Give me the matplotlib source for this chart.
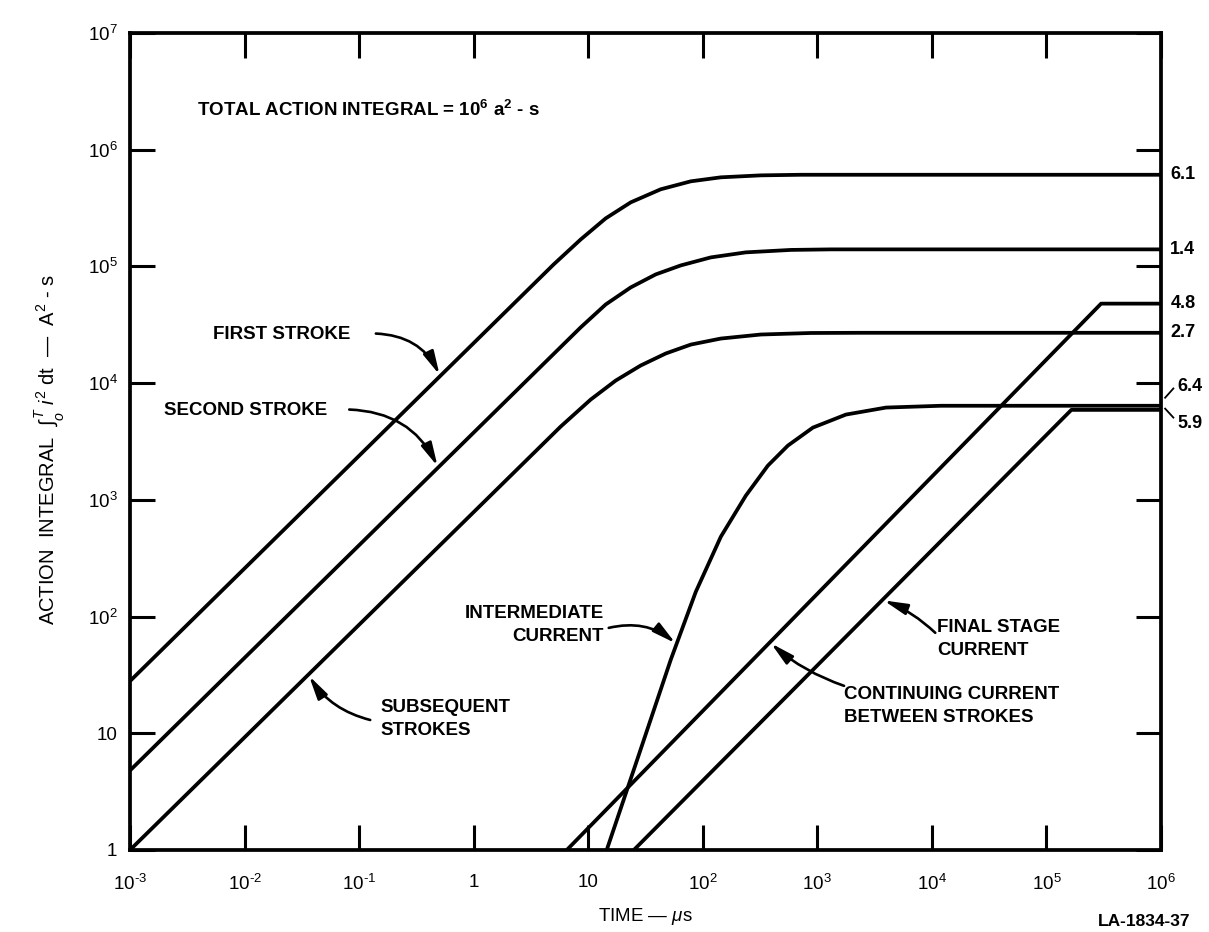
import numpy as np
import matplotlib
matplotlib.use('Agg')
import matplotlib.pyplot as plt
import matplotlib.transforms as mtransforms
from matplotlib.ticker import NullLocator

plt.rcParams['font.family'] = ['Liberation Sans', 'DejaVu Sans']
plt.rcParams['mathtext.fontset'] = 'custom'
plt.rcParams['mathtext.rm'] = 'Liberation Sans'
plt.rcParams['mathtext.it'] = 'Liberation Sans:italic'
plt.rcParams['mathtext.bf'] = 'Liberation Sans:bold'

# ---- data (time in microseconds, action integral in A^2-s) ----
first_t = [1e-3, 4.99, 8.58, 14.2, 23.5, 42.9, 78.6, 143.7, 321, 719, 1e6]
first_a = [28, 1.04e5, 1.70e5, 2.58e5, 3.54e5, 4.58e5, 5.36e5, 5.80e5, 6.03e5, 6.1e5, 6.1e5]

second_t = [1e-3, 8.58, 14.2, 23.5, 38.8, 64.2, 117.5, 237.6, 588, 1315, 1e6]
second_a = [4.8, 3.0e4, 4.72e4, 6.61e4, 8.54e4, 1.02e5, 1.195e5, 1.32e5, 1.385e5, 1.4e5, 1.4e5]

subseq_t = [1e-3, 5.74, 10.5, 17.4, 28.7, 47.5, 78.6, 143.7, 321, 879, 2405, 1e6]
subseq_a = [1, 4.24e3, 7.23e3, 1.053e4, 1.416e4, 1.795e4, 2.14e4, 2.41e4, 2.61e4, 2.69e4, 2.7e4, 2.7e4]

interm_t = [14.5, 27.6, 52.5, 86.9, 143.7, 237.6, 370, 553, 915, 1778, 3978, 1.2e4, 1e6]
interm_a = [1, 6.5, 42.6, 163, 483, 1087, 1965, 2916, 4161, 5380, 6177, 6400, 6400]

contin_t = [6.5, 3.0e5, 1e6]
contin_a = [1, 4.8e4, 4.8e4]

final_t = [25, 1.65e5, 1e6]
final_a = [1, 5.9e3, 5.9e3]

end_labels = ['6.1', '1.4', '4.8', '2.7']
end_values = [6.1e5, 1.4e5, 4.8e4, 2.7e4]

xticks = [1e-3, 1e-2, 1e-1, 1, 10, 1e2, 1e3, 1e4, 1e5, 1e6]
xticklabels = ['$10^{\u2010 3}$', '$10^{\u2010 2}$', '$10^{\u2010 1}$', '1', '10',
               r'$10^{2}$', r'$10^{3}$', r'$10^{4}$', r'$10^{5}$', r'$10^{6}$']
yticks = [1, 10, 1e2, 1e3, 1e4, 1e5, 1e6, 1e7]
yticklabels = ['1', '10', r'$10^{2}$', r'$10^{3}$', r'$10^{4}$',
               r'$10^{5}$', r'$10^{6}$', r'$10^{7}$']

# ---- figure ----
W, H = 1209, 932
fig = plt.figure(figsize=(W / 100, H / 100), dpi=100)
ax = fig.add_axes([130 / W, 82 / H, 1031 / W, 817 / H])

LW = 2.7
for t, a in [(first_t, first_a), (second_t, second_a), (subseq_t, subseq_a),
             (interm_t, interm_a), (contin_t, contin_a), (final_t, final_a)]:
    ax.plot(t, a, color='black', lw=LW, solid_capstyle='butt', solid_joinstyle='round')

ax.set_xscale('log')
ax.set_yscale('log')
ax.set_xlim(1e-3, 1e6)
ax.set_ylim(1, 1e7)
ax.set_xticks(xticks)
ax.set_xticklabels(xticklabels)
ax.set_yticks(yticks)
ax.set_yticklabels(yticklabels)
ax.xaxis.set_minor_locator(NullLocator())
ax.yaxis.set_minor_locator(NullLocator())
ax.tick_params(which='major', direction='in', length=18, width=2.2,
               top=True, right=True, labelsize=13.5, colors='black')
ax.tick_params(axis='x', pad=17)
ax.tick_params(axis='y', pad=9)
for s in ax.spines.values():
    s.set_linewidth(2.7)

ax.set_xlabel(r'TIME — $\mu$s', fontsize=13.5, labelpad=9)
ax.set_ylabel(r'ACTION  INTEGRAL  $\int_o^{T}$ $i^{2}$ dt  —  A$^{2}$ - s',
              fontsize=14.5)
ax.yaxis.set_label_coords(-0.061, 0.49)

# ---- texts ----
txt = dict(fontsize=13.5, color='black', fontweight='bold')
ax.text(3.85e-3, 2.18e6, r'TOTAL ACTION INTEGRAL = 10$^{\mathbf{6}}$ a$^{\mathbf{2}}$ - s',
        ha='left', va='center', **txt)
ax.text(5.3e-3, 2.6e4, 'FIRST STROKE', ha='left', va='center', **txt)
ax.text(2.0e-3, 5.8e3, 'SECOND STROKE', ha='left', va='center', **txt)
ax.text(0.153, 13.3, 'SUBSEQUENT\nSTROKES', ha='left', va='center', linespacing=1.45, **txt)
ax.text(13.6, 85, 'INTERMEDIATE\nCURRENT', ha='right', va='center', multialignment='right',
        linespacing=1.45, **txt)
ax.text(1.11e4, 64, 'FINAL STAGE\nCURRENT', ha='left', va='center', linespacing=1.45, **txt)
ax.text(1.71e3, 17.2, 'CONTINUING CURRENT\nBETWEEN STROKES', ha='left', va='center',
        linespacing=1.45, **txt)


def on_curve(t, ts, vals):
    return 10 ** np.interp(np.log10(t), np.log10(ts), np.log10(vals))


def arrow(tip, tail, rad):
    ax.annotate('', xy=tip, xytext=tail,
                arrowprops=dict(arrowstyle='-|>,head_length=1.4,head_width=0.33',
                                connectionstyle=f'arc3,rad={rad}', lw=1.9,
                                color='black', shrinkA=0, shrinkB=1))


arrow((0.51, on_curve(0.51, first_t, first_a)), (0.14, 2.66e4), -0.3)
arrow((0.49, on_curve(0.49, second_t, second_a)), (0.082, 5.94e3), -0.3)
arrow((0.036, on_curve(0.036, subseq_t, subseq_a)), (0.125, 13.0), -0.2)
arrow((59, on_curve(59, interm_t, interm_a)), (15.1, 80), -0.25)
arrow((3.7e3, on_curve(3.7e3, final_t, final_a)), (1.07e4, 72.6), 0.1)
arrow((385, on_curve(385, contin_t, contin_a)), (1.71e3, 25.5), -0.1)

# ---- right-hand end values ----
bt = mtransforms.blended_transform_factory(ax.transAxes, ax.transData)
rtxt = dict(transform=bt, ha='left', va='center', fontsize=13, fontweight='bold', clip_on=False)
for lab, v in zip(end_labels, end_values):
    ax.text(1.009, v, lab, **rtxt)
ax.text(1.016, 9.3e3, '6.4', **rtxt)
ax.text(1.016, 4.5e3, '5.9', **rtxt)
ax.plot([1.004, 1.012], [7.5e3, 9.0e3], transform=bt, color='black', lw=1.3, clip_on=False)
ax.plot([1.004, 1.012], [6.05e3, 5.07e3], transform=bt, color='black', lw=1.3, clip_on=False)

fig.text(1190 / W, 1 - 921 / H, 'LA-1834-37', ha='right', va='center', fontsize=12.5,
         fontweight='bold')

fig.savefig('out.png', dpi=100)
